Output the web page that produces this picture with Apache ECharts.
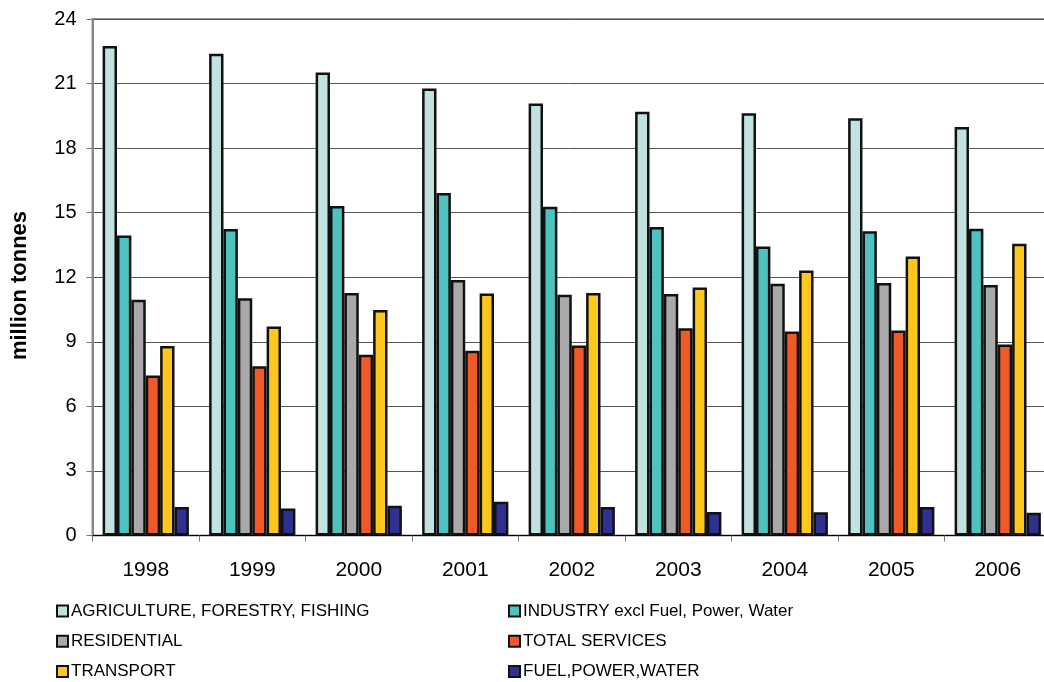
<!DOCTYPE html>
<html>
<head>
<meta charset="utf-8">
<script src="https://cdn.jsdelivr.net/npm/echarts@6/dist/echarts.min.js"></script>
<style>
html,body{margin:0;padding:0;background:#fff;}
#c{width:1044px;height:682px;}
</style>
</head>
<body>
<div id="c"></div>
<script>
const years = ['1998','1999','2000','2001','2002','2003','2004','2005','2006'];
const agriculture = [22.74, 22.39, 21.51, 20.77, 20.07, 19.69, 19.62, 19.39, 18.98];
const industry    = [13.94, 14.24, 15.31, 15.91, 15.28, 14.34, 13.43, 14.14, 14.25];
const residential = [10.96, 11.02, 11.27, 11.87, 11.19, 11.22, 11.70, 11.73, 11.64];
const services    = [7.44, 7.87, 8.40, 8.59, 8.83, 9.63, 9.48, 9.53, 8.87];
const transport   = [8.80, 9.71, 10.48, 11.24, 11.27, 11.52, 12.31, 12.96, 13.56];
const fuel        = [1.33, 1.26, 1.38, 1.57, 1.33, 1.09, 1.08, 1.33, 1.06];
const seriesNames = ['AGRICULTURE, FORESTRY, FISHING','INDUSTRY excl Fuel, Power, Water','RESIDENTIAL','TOTAL SERVICES','TRANSPORT','FUEL,POWER,WATER'];
const yAxisTitle = 'million tonnes';
const colors = ['#C0E2E0','#4DC2BE','#A8A9A8','#F05A28','#FDC71E','#2E3192'];
const values = [agriculture, industry, residential, services, transport, fuel];

const chart = echarts.init(document.getElementById('c'), null, {renderer:'canvas'});
const font = 'Liberation Sans, Arial, sans-serif';
const legendCommon = {
  orient:'vertical', itemWidth:11, itemHeight:11, itemGap:13.3, height:120, padding:0,
  icon:'rect',
  itemStyle:{borderColor:'#111', borderWidth:2},
  textStyle:{fontFamily:font, fontSize:17, lineHeight:17, color:'#000', padding:[0,0,0,-2]},
  selectedMode:false
};
chart.setOption({
  animation:false,
  grid:{left:92.5, right:-7, top:19, bottom:146.5, show:true, borderColor:'#999', borderWidth:2,
        containLabel:false, outerBoundsMode:'none'},
  graphic:[{
    type:'text', x:19.5, y:285.5, rotation:Math.PI/2,
    style:{text:yAxisTitle, fontFamily:font, fontSize:22, fontWeight:'bold', fill:'#000',
           textAlign:'center', textVerticalAlign:'middle'}
  }],
  legend:[
    Object.assign({left:56, top:602.5, data:[seriesNames[0], seriesNames[2], seriesNames[4]]}, legendCommon),
    Object.assign({left:508, top:602.5, data:[seriesNames[1], seriesNames[3], seriesNames[5]]}, legendCommon)
  ],
  xAxis:{
    type:'category', data:years,
    axisLine:{lineStyle:{color:'#000', width:1}},
    axisTick:{show:true, length:6, lineStyle:{color:'#777'}},
    axisLabel:{fontFamily:font, fontSize:21, color:'#000', margin:24}
  },
  yAxis:{
    type:'value', min:0, max:24, interval:3,
    axisLine:{show:true, lineStyle:{color:'#888', width:2}},
    axisTick:{show:true, length:6, lineStyle:{color:'#777'}},
    axisLabel:{fontFamily:font, fontSize:20, color:'#000', margin:16},
    splitLine:{lineStyle:{color:'#555', width:1}}
  },
  series: values.map((v,i)=>({
    name:seriesNames[i], type:'bar', data:v,
    barGap:'0%', barCategoryGap:'19%',
    itemStyle:{color:colors[i], borderColor:'#111', borderWidth:2.5}
  }))
});
</script>
</body>
</html>
